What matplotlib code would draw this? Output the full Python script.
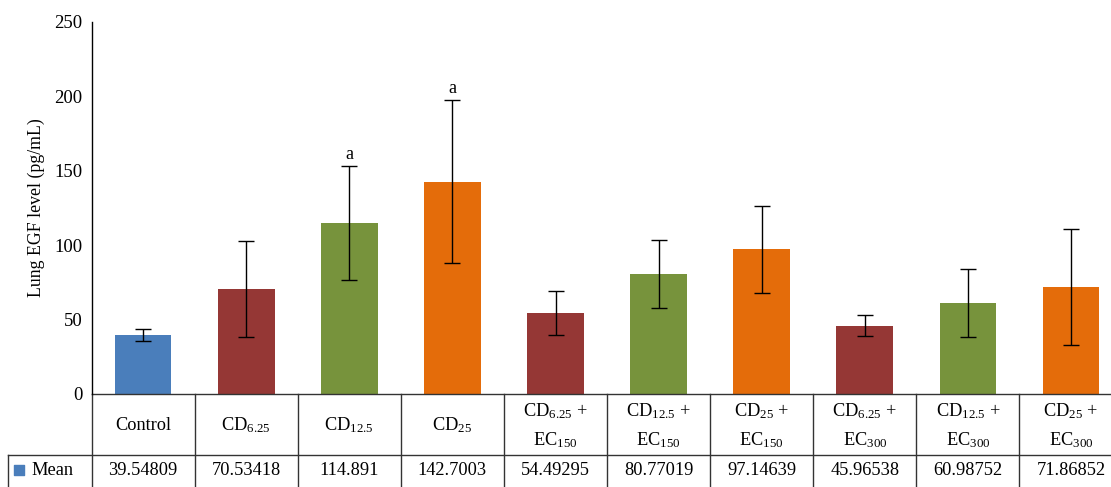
"""Lung EGF level per treatment group, bar chart with an Excel-style data table."""

import matplotlib

matplotlib.use("Agg")
import matplotlib.pyplot as plt
import numpy as np

groups = [
    "Control",
    r"CD$_{\mathrm{6.25}}$",
    r"CD$_{\mathrm{12.5}}$",
    r"CD$_{\mathrm{25}}$",
    "CD$_{\\mathrm{6.25}}$ +\nEC$_{\\mathrm{150}}$",
    "CD$_{\\mathrm{12.5}}$ +\nEC$_{\\mathrm{150}}$",
    "CD$_{\\mathrm{25}}$ +\nEC$_{\\mathrm{150}}$",
    "CD$_{\\mathrm{6.25}}$ +\nEC$_{\\mathrm{300}}$",
    "CD$_{\\mathrm{12.5}}$ +\nEC$_{\\mathrm{300}}$",
    "CD$_{\\mathrm{25}}$ +\nEC$_{\\mathrm{300}}$",
]
means = [39.54809, 70.53418, 114.891, 142.7003, 54.49295,
         80.77019, 97.14639, 45.96538, 60.98752, 71.86852]
errors = [4.0, 32.0, 38.5, 55.0, 15.0, 23.0, 29.0, 7.0, 23.0, 39.0]
letters = ["", "", "a", "a", "", "", "", "", "", ""]

BLUE, RED, GREEN, ORANGE = "#4a7ebb", "#953735", "#77933c", "#e46c0a"
bar_colors = [BLUE, RED, GREEN, ORANGE, RED, GREEN, ORANGE, RED, GREEN, ORANGE]

plt.rcParams["font.family"] = ["Liberation Serif", "DejaVu Serif"]
plt.rcParams["mathtext.fontset"] = "custom"
plt.rcParams["mathtext.rm"] = "Liberation Serif"
plt.rcParams["mathtext.it"] = "Liberation Serif:italic"

fig = plt.figure(figsize=(11.11, 4.87), dpi=100)
ax = fig.add_axes([0.0824, 0.191, 0.928, 0.764])

x = np.arange(len(groups))
ax.bar(x, means, width=0.55, color=bar_colors, yerr=errors, capsize=6,
       error_kw=dict(elinewidth=1, capthick=1, ecolor="black"))

for xi, m, e, lab in zip(x, means, errors, letters):
    if lab:
        ax.text(xi, m + e + 2, lab, ha="center", va="bottom", fontsize=13)

ax.set_xlim(-0.5, len(groups) - 0.5)
ax.set_ylim(0, 250)
ax.set_yticks(np.arange(0, 251, 50))
ax.tick_params(axis="y", length=0, pad=6.5, labelsize=13.5)
ax.set_xticks([])
ax.set_ylabel("Lung EGF level (pg/mL)", fontsize=12.8, labelpad=7)
for side in ("top", "right", "bottom"):
    ax.spines[side].set_visible(False)
ax.spines["left"].set_linewidth(1)

# data table under the plot (y in axes fraction, x in data units)
tr = ax.get_xaxis_transform()
row_top, row_mid, row_bot = 0.0, -0.164, -0.26
x_left = -1.31
line_kw = dict(color="#333333", lw=1, transform=tr, clip_on=False)
ax.plot([-0.5, len(groups)], [row_top, row_top], **line_kw)
ax.plot([x_left, len(groups)], [row_mid, row_mid], **line_kw)
ax.plot([x_left, x_left], [row_mid, row_bot], **line_kw)
for b in np.arange(len(groups) + 1) - 0.5:
    ax.plot([b, b], [row_top, row_bot], **line_kw)

mean_y = -0.205
for xi, g, m in zip(x, groups, means):
    ax.text(xi, -0.085, g, ha="center", va="center",
            multialignment="center", fontsize=13.2, transform=tr, clip_on=False,
            linespacing=1.6)
    ax.text(xi, mean_y, f"{m:.7g}", ha="center", va="center", fontsize=13.2,
            transform=tr, clip_on=False)

ax.scatter([-1.203], [mean_y], marker="s", s=50, color=BLUE, transform=tr,
           clip_on=False)
ax.text(-1.08, mean_y, "Mean", ha="left", va="center", fontsize=13.2,
        transform=tr, clip_on=False)

fig.savefig("out.png", dpi=100)
